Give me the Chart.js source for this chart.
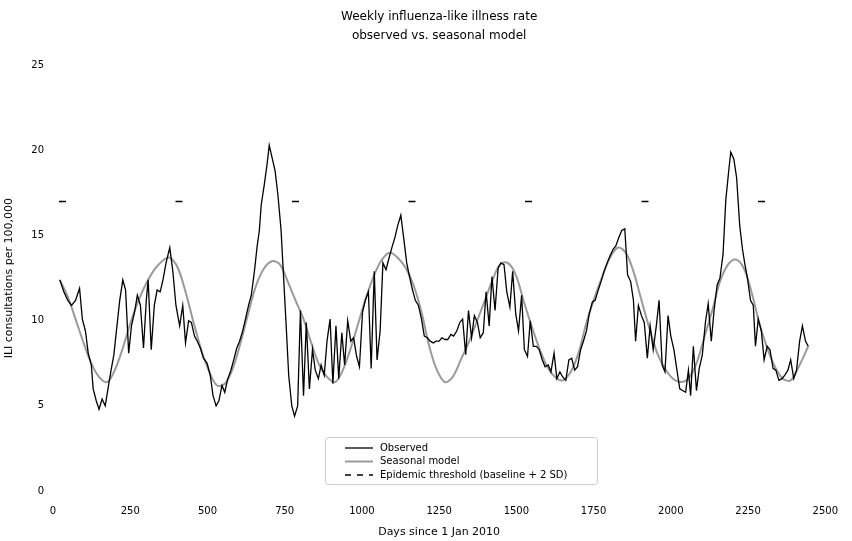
<!DOCTYPE html>
<html>
<head>
<meta charset="utf-8">
<script src="https://cdn.jsdelivr.net/npm/chart.js@4.4.0/dist/chart.umd.min.js"></script>
<style>
  html, body { margin: 0; padding: 0; background: #fff; }
  #wrap { width: 852px; height: 541px; position: relative; }
</style>
</head>
<body>
<div id="wrap"><canvas id="chart"></canvas></div>
<script>
// observed weekly rate, x = day since start of record
const obsDays = [
  22, 35, 48, 60, 73, 86, 95, 105, 114, 124,
  130, 140, 149, 159, 169, 178, 188, 197, 207, 216,
  226, 235, 245, 254, 264, 273, 283, 293, 302, 308,
  318, 328, 337, 347, 356, 366, 378, 388, 398, 410,
  420, 429, 439, 448, 458, 467, 477, 487, 499, 509,
  518, 528, 537, 547, 556, 566, 576, 585, 595, 604,
  614, 623, 633, 642, 652, 661, 668, 674, 684, 693,
  700, 709, 719, 728, 738, 744, 754, 763, 773, 782,
  792, 801, 811, 820, 830, 840, 849, 859, 868, 878,
  887, 897, 906, 916, 925, 935, 944, 954, 964, 973,
  983, 992, 1002, 1011, 1021, 1030, 1040, 1049, 1059, 1068,
  1078, 1088, 1097, 1107, 1116, 1126, 1135, 1145, 1154, 1164,
  1173, 1183, 1193, 1202, 1212, 1221, 1231, 1240, 1250, 1259,
  1269, 1278, 1288, 1297, 1307, 1317, 1326, 1336, 1345, 1355,
  1364, 1374, 1383, 1393, 1402, 1412, 1421, 1431, 1441, 1450,
  1460, 1469, 1479, 1488, 1498, 1507, 1517, 1526, 1536, 1545,
  1555, 1565, 1574, 1584, 1593, 1603, 1612, 1622, 1631, 1641,
  1650, 1660, 1670, 1679, 1689, 1698, 1708, 1717, 1727, 1736,
  1746, 1755, 1765, 1774, 1784, 1794, 1803, 1813, 1822, 1832,
  1841, 1851, 1860, 1870, 1879, 1886, 1895, 1905, 1914, 1924,
  1933, 1943, 1953, 1962, 1972, 1981, 1991, 2000, 2010, 2019,
  2029, 2038, 2048, 2057, 2064, 2073, 2083, 2092, 2102, 2112,
  2121, 2131, 2140, 2150, 2159, 2169, 2178, 2188, 2194, 2204,
  2213, 2223, 2232, 2239, 2248, 2258, 2267, 2274, 2283, 2293,
  2302, 2312, 2321, 2331, 2340, 2350, 2360, 2369, 2379, 2388,
  2398, 2407, 2417, 2426, 2436, 2445
];
const obsVals = [
  12.4, 11.7, 11.2, 10.9, 11.2, 11.9, 10.1, 9.4, 8.1, 7.4,
  6.0, 5.3, 4.8, 5.4, 5.0, 6.0, 7.1, 8.0, 9.7, 11.2,
  12.4, 11.8, 8.1, 9.7, 10.5, 11.5, 10.9, 8.4, 11.2, 12.4,
  8.3, 10.9, 11.8, 11.7, 12.4, 13.4, 14.3, 12.9, 10.9, 9.7,
  10.9, 8.7, 10.0, 9.9, 9.1, 8.8, 8.4, 7.8, 7.5, 6.8,
  5.6, 5.0, 5.3, 6.2, 5.8, 6.6, 7.1, 7.7, 8.4, 8.8,
  9.4, 10.1, 10.9, 11.5, 12.9, 14.4, 15.3, 16.8, 18.0, 19.2,
  20.3, 19.6, 18.8, 17.4, 15.4, 13.4, 10.0, 6.8, 5.0, 4.4,
  5.0, 10.6, 5.6, 9.9, 6.0, 8.3, 7.1, 6.6, 7.4, 6.8,
  8.8, 10.1, 6.3, 9.7, 6.6, 9.3, 7.4, 10.0, 8.8, 9.0,
  7.9, 7.3, 10.5, 11.2, 11.7, 7.2, 12.9, 7.7, 9.4, 13.4,
  13.0, 13.7, 14.3, 14.9, 15.6, 16.2, 14.9, 13.4, 12.6, 11.8,
  11.2, 10.9, 10.1, 9.1, 9.0, 8.8, 8.7, 8.8, 8.8, 9.0,
  8.9, 8.9, 9.2, 9.1, 9.4, 9.9, 10.1, 8.0, 10.6, 9.0,
  10.3, 9.9, 9.0, 9.3, 11.7, 9.7, 12.6, 10.6, 13.1, 13.4,
  13.3, 11.7, 10.8, 12.9, 10.4, 9.4, 11.5, 8.3, 7.9, 10.0,
  8.5, 8.5, 8.3, 7.7, 7.3, 7.4, 7.0, 8.1, 6.6, 7.0,
  6.7, 6.5, 7.7, 7.8, 7.1, 7.3, 8.3, 8.8, 9.4, 10.4,
  11.1, 11.2, 11.8, 12.3, 12.9, 13.4, 13.8, 14.2, 14.4, 14.9,
  15.3, 15.4, 12.7, 12.3, 11.2, 8.8, 10.9, 10.3, 9.9, 7.8,
  9.7, 8.3, 9.7, 11.2, 7.4, 7.0, 10.3, 9.1, 8.3, 7.2,
  6.0, 5.9, 5.8, 7.1, 5.6, 8.5, 5.9, 7.2, 8.0, 9.9,
  11.0, 8.8, 10.6, 12.1, 12.5, 13.9, 17.1, 18.9, 19.9, 19.5,
  18.4, 15.6, 14.2, 13.4, 12.5, 11.2, 10.9, 8.5, 10.1, 9.4,
  7.7, 8.5, 8.3, 7.2, 7.1, 6.5, 6.6, 6.8, 7.1, 7.7,
  6.6, 7.1, 8.8, 9.7, 8.8, 8.5
];

// seasonal model curve
const fitDays = [
  22, 48, 73, 99, 124, 149, 175, 200, 226, 251,
  277, 302, 328, 353, 378, 404, 429, 455, 480, 506,
  531, 556, 582, 607, 633, 658, 684, 709, 735, 760,
  785, 811, 836, 862, 887, 913, 938, 964, 989, 1014,
  1040, 1065, 1091, 1116, 1142, 1167, 1193, 1218, 1243, 1269,
  1294, 1320, 1345, 1371, 1396, 1421, 1447, 1472, 1498, 1523,
  1549, 1574, 1600, 1625, 1650, 1676, 1701, 1727, 1752, 1778,
  1803, 1829, 1854, 1879, 1905, 1930, 1956, 1981, 2007, 2032,
  2057, 2083, 2108, 2134, 2159, 2185, 2210, 2236, 2261, 2286,
  2312, 2337, 2363, 2388, 2414, 2445
];
const fitVals = [
  12.4, 11.4, 10.1, 8.7, 7.5, 6.7, 6.4, 7.1, 8.4, 9.9,
  11.2, 12.2, 13.0, 13.5, 13.7, 13.1, 11.7, 9.9, 8.3, 7.0,
  6.2, 6.3, 7.2, 8.7, 10.5, 12.1, 13.1, 13.5, 13.3, 12.3,
  11.2, 10.1, 8.7, 7.4, 6.7, 6.4, 7.1, 8.4, 9.9, 11.4,
  12.7, 13.6, 14.0, 13.7, 13.1, 12.1, 10.5, 8.5, 7.1, 6.4,
  6.7, 7.7, 8.7, 9.9, 11.1, 12.3, 13.3, 13.4, 12.7, 11.2,
  9.7, 8.4, 7.3, 6.7, 6.5, 7.0, 8.1, 9.9, 11.3, 12.6,
  13.7, 14.3, 14.0, 12.9, 11.2, 9.6, 8.1, 7.2, 6.6, 6.4,
  6.6, 7.5, 9.0, 10.6, 12.3, 13.3, 13.6, 13.1, 11.7, 9.9,
  8.4, 7.3, 6.6, 6.5, 7.3, 8.5
];

const thresholdDays = [0, 2500];
const thresholdVals = [17.0, 17.0];

const seriesLabels = ['Observed', 'Seasonal model', 'Epidemic threshold (baseline + 2 SD)'];
const titleLines = ['Weekly influenza-like illness rate', 'observed vs. seasonal model'];

const pts = (xs, ys) => xs.map((x, i) => ({ x: x, y: ys[i] }));
const FONT = '"DejaVu Sans", "Liberation Sans", sans-serif';

// legend box drawn inside the plot, matplotlib style
const insetLegend = {
  id: 'insetLegend',
  afterDatasetsDraw(chart, args, opts) {
    const ctx = chart.ctx;
    const b = opts.box;
    ctx.save();
    ctx.fillStyle = 'rgba(255,255,255,0.85)';
    ctx.strokeStyle = '#cccccc';
    ctx.lineWidth = 1;
    ctx.beginPath();
    ctx.roundRect(b.x + 0.5, b.y + 0.5, b.w, b.h, 3);
    ctx.fill();
    ctx.stroke();
    ctx.font = '10px ' + FONT;
    ctx.textBaseline = 'middle';
    chart.data.datasets.forEach((ds, i) => {
      const y = b.y + opts.firstRow + i * opts.rowGap;
      ctx.strokeStyle = ds.borderColor;
      ctx.lineWidth = ds.borderWidth;
      ctx.setLineDash(ds.legendDash || []);
      ctx.beginPath();
      ctx.moveTo(b.x + 20, y);
      ctx.lineTo(b.x + 48, y);
      ctx.stroke();
      ctx.setLineDash([]);
      ctx.fillStyle = '#000';
      ctx.fillText(ds.label, b.x + 55, y);
    });
    ctx.restore();
  }
};

new Chart(document.getElementById('chart'), {
  type: 'line',
  data: {
    datasets: [
      {
        label: seriesLabels[0],
        data: pts(obsDays, obsVals),
        borderColor: '#000000',
        borderWidth: 1.3,
        pointRadius: 0,
        tension: 0
      },
      {
        label: seriesLabels[1],
        data: pts(fitDays, fitVals),
        borderColor: '#9a9a9a',
        borderWidth: 2,
        pointRadius: 0,
        tension: 0.35
      },
      {
        label: seriesLabels[2],
        data: pts(thresholdDays, thresholdVals),
        borderColor: '#000000',
        borderWidth: 1.5,
        borderDash: [7, 109.5],
        borderDashOffset: 110.5,
        legendDash: [6, 6],
        pointRadius: 0
      }
    ]
  },
  options: {
    responsive: true,
    maintainAspectRatio: false,
    animation: false,
    layout: { padding: { left: 0, right: 13, top: 0, bottom: 0 } },
    plugins: {
      legend: { display: false },
      tooltip: { enabled: false },
      title: {
        display: true,
        fullSize: false,
        text: titleLines,
        color: '#000',
        font: { family: FONT, size: 12, weight: 'normal', lineHeight: 1.6 },
        padding: { top: 7, bottom: 20 }
      },
      insetLegend: {
        box: { x: 325, y: 437, w: 272, h: 47 },
        firstRow: 11,
        rowGap: 13.5
      }
    },
    scales: {
      x: {
        type: 'linear',
        min: 0,
        max: 2500,
        grid: { display: false, drawTicks: false },
        border: { display: false },
        ticks: {
          stepSize: 250, color: '#000', padding: 14, maxRotation: 0,
          font: { family: FONT, size: 10 },
          callback: (v) => String(v)
        },
        title: { display: true, text: 'Days since 1 Jan 2010', color: '#000', font: { family: FONT, size: 11 }, padding: { top: 2, bottom: 2 } },
        afterFit: (s) => { s.height = 50; }
      },
      y: {
        min: 0,
        max: 25,
        grid: { display: false, drawTicks: false },
        border: { display: false },
        ticks: { stepSize: 5, color: '#000', padding: 9, font: { family: FONT, size: 10 } },
        title: { display: true, text: 'ILI consultations per 100,000', color: '#000', font: { family: FONT, size: 11 }, padding: { top: 3, bottom: 2 } },
        afterFit: (s) => { s.width = 53; }
      }
    }
  },
  plugins: [insetLegend]
});
</script>
</body>
</html>
